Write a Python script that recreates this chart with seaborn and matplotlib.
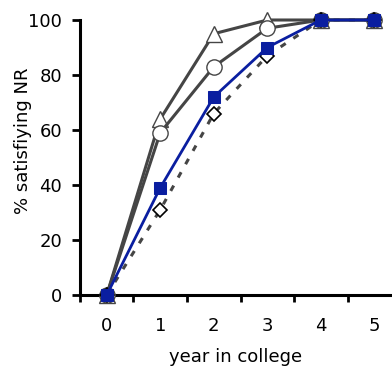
import pandas as pd
import numpy as np
import matplotlib.pyplot as plt
import seaborn as sns

sns.set_style("white")
plt.rcParams['font.family'] = ['DejaVu Sans']
plt.rcParams['text.color'] = 'black'
plt.rcParams['axes.labelcolor'] = 'black'
plt.rcParams['xtick.color'] = 'black'
plt.rcParams['ytick.color'] = 'black'

# data
years = [0, 1, 2, 3, 4, 5]
triangles = [0, 64, 95, 100, 100, 100]
circles = [0, 59, 83, 97, 100, 100]
diamonds = [0, 31, 66, 87, 100, 100]
squares = [0, 39, 72, 90, 100, 100]

gray = "#454545"
blue = "#0A1EA0"

fig = plt.figure(figsize=(3.92, 3.69), dpi=100)
ax = fig.add_axes([0.204, 0.2005, 0.796, 0.7453])

sns.lineplot(x=years, y=triangles, ax=ax, color=gray, lw=2.2, marker="^",
             markersize=12, markerfacecolor="white", markeredgecolor=gray,
             markeredgewidth=1.0, clip_on=False, zorder=3)
sns.lineplot(x=years, y=circles, ax=ax, color=gray, lw=2.2, marker="o",
             markersize=11, markerfacecolor="white", markeredgecolor=gray,
             markeredgewidth=1.0, clip_on=False, zorder=4)
sns.lineplot(x=years, y=diamonds, ax=ax, color=gray, lw=2.2, ls=(0, (2, 3)),
             marker="D", markersize=7, markerfacecolor="white",
             markeredgecolor="black", markeredgewidth=1.2, clip_on=False, zorder=5)
sns.lineplot(x=years, y=squares, ax=ax, color=blue, lw=2.0, marker="s",
             markersize=9, markerfacecolor=blue, markeredgecolor=blue,
             clip_on=False, zorder=6)

ax.set_xlim(-0.5, 5.33)
ax.set_ylim(0, 100)
ax.set_yticks([0, 20, 40, 60, 80, 100])
ax.set_xticks(years)
ax.set_xticks(np.arange(-0.5, 5.5, 1), minor=True)
ax.tick_params(axis="x", which="major", length=0, pad=16, labelsize=13)
ax.tick_params(axis="x", which="minor", direction="out", length=5, width=2,
               bottom=True, color="black")
ax.tick_params(axis="y", direction="out", length=6, width=2, left=True,
               color="black", labelsize=13, pad=7)

for s in ["top", "right"]:
    ax.spines[s].set_visible(False)
for s in ["left", "bottom"]:
    ax.spines[s].set_linewidth(2.2)
    ax.spines[s].set_color("black")

ax.set_xlabel("year in college", fontsize=13, labelpad=9)
ax.set_ylabel("% satisfiying NR", fontsize=13)
ax.yaxis.set_label_coords(-0.155, 0.56)

fig.savefig("out.png", dpi=100)
